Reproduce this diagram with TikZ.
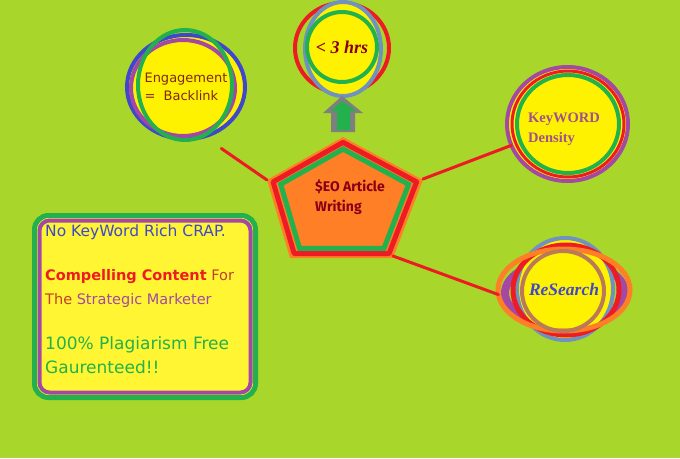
\documentclass[tikz,border=0pt]{standalone}
\usepackage{fontspec}
\setmainfont{Fira Sans}
\newfontfamily\romanfont{Liberation Serif}
\newfontfamily\roundfont{DejaVu Sans}
\usetikzlibrary{arrows.meta,shapes.geometric}
\definecolor{bglime}{RGB}{168,214,42}
\definecolor{pyellow}{RGB}{255,242,0}
\definecolor{boxyellow}{RGB}{255,245,50}
\definecolor{pgreen}{RGB}{34,177,76}
\definecolor{pblue}{RGB}{63,72,204}
\definecolor{ppurple}{RGB}{163,73,164}
\definecolor{pred}{RGB}{237,28,36}
\definecolor{porange}{RGB}{255,127,39}
\definecolor{pgreyblue}{RGB}{112,146,190}
\definecolor{pgrey}{RGB}{127,127,127}
\definecolor{pbrown}{RGB}{185,122,87}
\definecolor{pdarkred}{RGB}{136,0,21}
\definecolor{engtext}{RGB}{125,40,25}
\definecolor{pmauve}{RGB}{160,80,140}
\definecolor{pbrick}{RGB}{192,64,42}
\tikzset{
  ring/.style={line width=4pt},
  bubble/.style={ellipse, line width=4pt, fill=pyellow, inner sep=0pt, outer sep=0pt},
  link/.style={draw=pred, line width=3pt, line cap=round},
  boxline/.style={anchor=base west, inner sep=0pt}
}
\newcommand{\pentpath}{(0,-67) -- (80,-24) -- (50,54) -- (-53,54) -- (-76,-24) -- cycle}

\begin{document}
\begin{tikzpicture}[x=1pt, y=-1pt]
  \fill[bglime] (0,0) rectangle (680,458);
  \useasboundingbox (0,0) rectangle (680,458);

  \node[bubble, draw=pblue, minimum width=118pt, minimum height=104pt,
    text=engtext, font=\roundfont\fontsize{13}{18}\selectfont, align=left] (engage) at (186,87) {Engagement\\=~~Backlink};
  \draw[ring, ppurple] (183,88) ellipse [x radius=52, y radius=48];
  \draw[ring, pgreen] (185,85) ellipse [x radius=47, y radius=55];

  \draw[ring, pred] (342,48) ellipse [x radius=47, y radius=45];
  \draw[ring, pgreyblue, fill=pyellow] (343,49) ellipse [x radius=38, y radius=47];
  \node[bubble, circle, draw=pgreen, minimum size=70pt, text=pdarkred,
    font=\romanfont\bfseries\itshape\fontsize{18}{20}\selectfont] (hrs) at (342,47) {<~3 hrs};

  \fill[pgrey] (331,132) -- (331,113) -- (323,113) -- (342,96) -- (363,113) -- (355,113) -- (355,132) -- cycle;
  \fill[pgreen] (337,130) -- (337,111) -- (331,111) -- (342,101) -- (356,111) -- (350,111) -- (350,130) -- cycle;

  \begin{scope}[shift={(343,204)}]
    \fill[porange] \pentpath;
    \draw[pred, line width=5pt, line join=round, scale=0.92] \pentpath;
    \draw[pgreen, line width=5pt, scale=0.82] \pentpath;
  \end{scope}
  \coordinate (pleft) at (267,180);
  \coordinate (pright) at (423,179);
  \coordinate (pbr) at (393,256);
  \node[text=pdarkred, font=\bfseries\fontsize{14}{20}\selectfont, align=left] (seo) at (350,197) {\$EO Article\\Writing};

  \node[bubble, draw=ppurple, minimum width=121pt, minimum height=114pt] (kwd) at (567.5,124) {};
  \draw[pred, line width=3pt] (568,124) ellipse [x radius=56, y radius=53];
  \draw[ring, pgreen] (568,124) ellipse [x radius=51, y radius=49];
  \node[text=pmauve, font=\romanfont\bfseries\fontsize{14.5}{20}\selectfont, align=left] (kwdtext) at (564,129) {KeyWORD\\Density};

  \draw[ppurple, line width=8pt] (565,293) ellipse [x radius=60, y radius=33];
  \draw[ring, pgreyblue, fill=pyellow] (565,289) ellipse [x radius=48, y radius=51];
  \draw[pred, line width=5pt] (566,290) ellipse [x radius=53, y radius=45];
  \node[bubble, draw=porange, fill=none, line width=5pt, minimum width=132pt, minimum height=82pt, text=pblue,
    font=\romanfont\bfseries\itshape\fontsize{17.5}{18}\selectfont] (research) at (564,290) {ReSearch};
  \draw[ring, pbrown] (563,291) ellipse [x radius=41, y radius=40];

  \draw[link, shorten <=21pt] (engage.-70) -- (pleft);
  \draw[link] (pright) -- (kwd);
  \draw[link] (pbr) -- (research.184);

  \node[draw=pgreen, line width=5pt, fill=boxyellow, rounded corners=14pt, minimum width=221pt,
    minimum height=182pt, inner sep=0pt, outer sep=0pt] (box) at (145,306.5) {};
  \draw[ppurple, line width=4pt, rounded corners=10pt] ([shift={(5,5)}]box.north west) rectangle ([shift={(-5,-5)}]box.south east);
  \node[boxline, text=pblue, font=\roundfont\fontsize{15.5}{16}\selectfont] (t1) at (45,236) {No KeyWord Rich CRAP.};
  \node[boxline, font=\roundfont\fontsize{14.5}{18}\selectfont] (t2) at (45,280)
    {\textcolor{pred}{\bfseries Compelling Content} \textcolor{pbrick}{For}};
  \node[boxline, font=\roundfont\fontsize{14.5}{18}\selectfont] (t3) at (45,304)
    {\textcolor{pbrick}{The} \textcolor{ppurple}{Strategic Marketer}};
  \node[boxline, text=pgreen, font=\roundfont\fontsize{17}{20}\selectfont] (t4) at (45,349) {100\% Plagiarism Free};
  \node[boxline, text=pgreen, font=\roundfont\fontsize{17}{20}\selectfont] (t5) at (45,373) {Gaurenteed!!};
\end{tikzpicture}
\end{document}
